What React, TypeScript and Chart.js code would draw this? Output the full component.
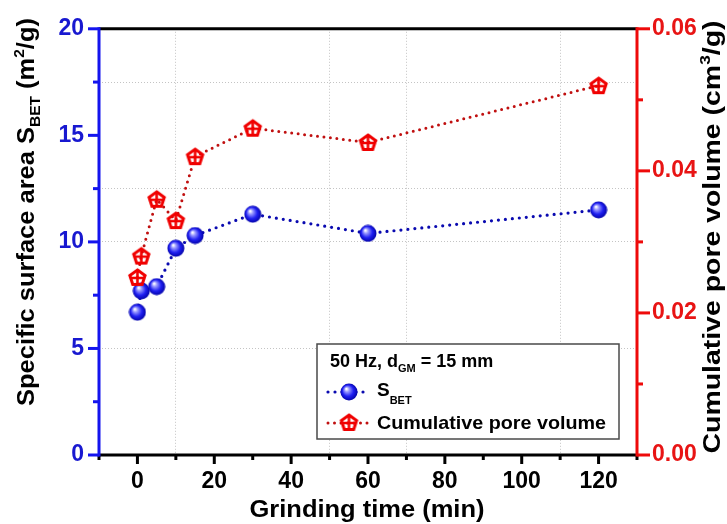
import React, { useEffect, useRef } from 'react';
import { Chart, registerables } from 'chart.js';

Chart.register(...registerables);

// ---------- data ----------
const grindingTime = [0, 1, 5, 10, 15, 30, 60, 120];
const sBET = [6.7, 7.7, 7.9, 9.7, 10.3, 11.3, 10.4, 11.5];
const poreVolume = [0.025, 0.028, 0.036, 0.033, 0.042, 0.046, 0.044, 0.052];

const xTickLabels = [0, 20, 40, 60, 80, 100, 120];
const leftTickLabels = [0, 5, 10, 15, 20];
const rightTickLabels = [0, 0.02, 0.04, 0.06];
const xGridAt = [10, 50, 70, 110];
const leftGridAt = [5, 10, 12.5, 17.5];

const FAMILY = '"Liberation Sans", Arial, sans-serif';
const BLUE_AXIS = '#1414ee';
const BLUE_TEXT = '#1818d0';
const BLUE_LINE = '#0a0ab0';
const RED_AXIS = '#ee0a0a';
const RED_TEXT = '#e81414';
const RED_LINE = '#c01010';
const GRID = '#c4c4c4';

type Part = { t: string; s: number; dy?: number };

function drawRich(
  ctx: CanvasRenderingContext2D,
  parts: Part[],
  x: number,
  y: number,
  opts: { rot?: number; align?: 'left' | 'center'; base?: number; target?: number; color?: string }
) {
  ctx.save();
  ctx.translate(x, y);
  if (opts.rot) ctx.rotate(opts.rot);
  let total = 0;
  const widths: number[] = [];
  for (const p of parts) {
    ctx.font = `bold ${p.s}px ${FAMILY}`;
    const w = ctx.measureText(p.t).width;
    widths.push(w);
    total += w;
  }
  const k = opts.target ? opts.target / total : 1;
  ctx.scale(k, 1);
  let cx = opts.align === 'center' ? -total / 2 : 0;
  ctx.textAlign = 'left';
  ctx.textBaseline = 'alphabetic';
  ctx.fillStyle = opts.color || '#000';
  parts.forEach((p, i) => {
    ctx.font = `bold ${p.s}px ${FAMILY}`;
    ctx.fillText(p.t, cx, (opts.base || 0) + (p.dy || 0));
    cx += widths[i];
  });
  ctx.restore();
}

function makeSphere(): HTMLCanvasElement {
  const c = document.createElement('canvas');
  c.width = 18;
  c.height = 18;
  const g = c.getContext('2d')!;
  const grad = g.createRadialGradient(6.3, 5.8, 0.5, 9, 9, 9);
  grad.addColorStop(0, '#ffffff');
  grad.addColorStop(0.22, '#9a9aff');
  grad.addColorStop(0.6, '#2020f2');
  grad.addColorStop(1, '#0000a0');
  g.fillStyle = grad;
  g.beginPath();
  g.arc(9, 9, 8.5, 0, Math.PI * 2);
  g.fill();
  return c;
}

function makePentagon(): HTMLCanvasElement {
  const c = document.createElement('canvas');
  c.width = 21;
  c.height = 21;
  const g = c.getContext('2d')!;
  const cx = 10.5;
  const cy = 11;
  const r = 8;
  g.strokeStyle = '#f00000';
  g.lineWidth = 3;
  g.lineJoin = 'miter';
  g.beginPath();
  for (let k = 0; k < 5; k++) {
    const a = -Math.PI / 2 + (k * 2 * Math.PI) / 5;
    const px = cx + r * Math.cos(a);
    const py = cy + r * Math.sin(a);
    if (k === 0) g.moveTo(px, py);
    else g.lineTo(px, py);
  }
  g.closePath();
  g.stroke();
  g.lineWidth = 2.6;
  g.beginPath();
  g.moveTo(cx, cy - r);
  g.lineTo(cx, cy + r * 0.8);
  g.moveTo(cx - r * 0.95, cy);
  g.lineTo(cx + r * 0.95, cy);
  g.stroke();
  return c;
}

export default function App() {
  const ref = useRef<HTMLCanvasElement | null>(null);

  useEffect(() => {
    document.body.style.margin = '0';
    const canvas = ref.current!;
    const sphere = makeSphere();
    const pent = makePentagon();

    const decor = {
      id: 'decor',
      afterDraw(chart: any) {
        const ctx: CanvasRenderingContext2D = chart.ctx;
        const a = chart.chartArea;
        const xs = chart.scales.x;
        const yl = chart.scales.y;
        const yr = chart.scales.y1;
        ctx.save();
        ctx.lineCap = 'butt';
        // frame
        ctx.lineWidth = 3;
        ctx.strokeStyle = '#000';
        ctx.beginPath();
        ctx.moveTo(a.left, a.top);
        ctx.lineTo(a.right, a.top);
        ctx.moveTo(a.left, a.bottom);
        ctx.lineTo(a.right, a.bottom);
        ctx.stroke();
        // x ticks
        for (const t of xs.ticks) {
          const px = xs.getPixelForValue(t.value);
          const major = Math.abs(t.value % 20) < 1e-9;
          ctx.beginPath();
          ctx.moveTo(px, a.bottom);
          ctx.lineTo(px, a.bottom + (major ? 9 : 5));
          ctx.stroke();
        }
        // left axis
        ctx.strokeStyle = BLUE_AXIS;
        ctx.beginPath();
        ctx.moveTo(a.left, a.top - 1.5);
        ctx.lineTo(a.left, a.bottom + 1.5);
        ctx.stroke();
        for (const t of yl.ticks) {
          const py = yl.getPixelForValue(t.value);
          const major = Math.abs(t.value % 5) < 1e-9;
          ctx.beginPath();
          ctx.moveTo(a.left, py);
          ctx.lineTo(a.left - (major ? 11 : 6), py);
          ctx.stroke();
        }
        // right axis
        ctx.strokeStyle = RED_AXIS;
        ctx.beginPath();
        ctx.moveTo(a.right, a.top - 1.5);
        ctx.lineTo(a.right, a.bottom + 1.5);
        ctx.stroke();
        for (const t of yr.ticks) {
          const py = yr.getPixelForValue(t.value);
          const major = Math.round(t.value * 100) % 2 === 0;
          ctx.beginPath();
          ctx.moveTo(a.right, py);
          ctx.lineTo(a.right + (major ? 13 : 6), py);
          ctx.stroke();
        }
        ctx.restore();

        // axis titles
        drawRich(
          ctx,
          [
            { t: 'Specific surface area S', s: 23 },
            { t: 'BET', s: 14, dy: 6 },
            { t: ' (m', s: 23 },
            { t: '2', s: 14, dy: -10 },
            { t: '/g)', s: 23 },
          ],
          27,
          212,
          { rot: -Math.PI / 2, align: 'center', base: 7, target: 388 }
        );
        drawRich(
          ctx,
          [
            { t: 'Cumulative pore volume (cm', s: 23 },
            { t: '3', s: 14, dy: -10 },
            { t: '/g)', s: 23 },
          ],
          713,
          237,
          { rot: -Math.PI / 2, align: 'center', base: 7, target: 433 }
        );
        drawRich(ctx, [{ t: 'Grinding time (min)', s: 23 }], 367, 517, {
          align: 'center',
          target: 235,
        });

        // legend
        ctx.save();
        ctx.fillStyle = '#fff';
        ctx.fillRect(317, 344, 302, 95);
        ctx.strokeStyle = '#4a4a4a';
        ctx.lineWidth = 1.5;
        ctx.strokeRect(317, 344, 302, 95);
        ctx.lineCap = 'round';
        ctx.setLineDash([0, 7]);
        ctx.lineWidth = 3.2;
        ctx.strokeStyle = BLUE_LINE;
        ctx.beginPath();
        ctx.moveTo(328, 392);
        ctx.lineTo(370, 392);
        ctx.stroke();
        ctx.setLineDash([0, 6.5]);
        ctx.lineWidth = 3;
        ctx.strokeStyle = RED_LINE;
        ctx.beginPath();
        ctx.moveTo(328, 423);
        ctx.lineTo(370, 423);
        ctx.stroke();
        ctx.setLineDash([]);
        ctx.drawImage(sphere, 349 - 9, 392 - 9);
        ctx.drawImage(pent, 349 - 10.5, 423 - 11);
        ctx.restore();
        drawRich(
          ctx,
          [
            { t: '50 Hz, d', s: 18 },
            { t: 'GM', s: 11, dy: 5 },
            { t: ' = 15 mm', s: 18 },
          ],
          330,
          367,
          {}
        );
        drawRich(
          ctx,
          [
            { t: 'S', s: 19 },
            { t: 'BET', s: 11, dy: 8 },
          ],
          377,
          396,
          {}
        );
        drawRich(ctx, [{ t: 'Cumulative pore volume', s: 19 }], 377, 429, { target: 229 });
      },
    };

    const chart = new Chart(canvas, {
      type: 'line',
      data: {
        datasets: [
          {
            label: 'Cumulative pore volume',
            data: grindingTime.map((x, i) => ({ x, y: poreVolume[i] })),
            yAxisID: 'y1',
            borderColor: RED_LINE,
            borderWidth: 3,
            borderDash: [0, 6.5],
            borderCapStyle: 'round',
            pointStyle: pent as any,
            pointRadius: 10,
            tension: 0,
            fill: false,
          },
          {
            label: 'S_BET',
            data: grindingTime.map((x, i) => ({ x, y: sBET[i] })),
            yAxisID: 'y',
            borderColor: BLUE_LINE,
            borderWidth: 3.2,
            borderDash: [0, 7],
            borderCapStyle: 'round',
            pointStyle: sphere as any,
            pointRadius: 9,
            tension: 0,
            fill: false,
          },
        ],
      },
      options: {
        animation: false,
        responsive: true,
        maintainAspectRatio: false,
        layout: { padding: { top: 20, left: 0, right: 0, bottom: 0 } },
        plugins: { legend: { display: false }, tooltip: { enabled: false } },
        scales: {
          x: {
            type: 'linear',
            min: -10,
            max: 130,
            border: { display: false, dash: [1, 2] },
            grid: {
              drawTicks: false,
              lineWidth: 1,
              color: (c: any) =>
                xGridAt.some((v) => Math.abs(v - c.tick?.value) < 1e-9) ? GRID : 'rgba(0,0,0,0)',
            },
            ticks: {
              stepSize: 10,
              autoSkip: false,
              maxRotation: 0,
              padding: 13,
              color: '#000',
              font: { family: FAMILY, size: 23, weight: 'bold' },
              callback: (v: any) => (xTickLabels.includes(Number(v)) ? String(v) : ''),
            },
            afterFit: (s: any) => {
              s.height = 69;
            },
          },
          y: {
            type: 'linear',
            position: 'left',
            min: 0,
            max: 20,
            border: { display: false, dash: [1, 2] },
            grid: {
              drawTicks: false,
              lineWidth: 1,
              color: (c: any) =>
                leftGridAt.some((v) => Math.abs(v - c.tick?.value) < 1e-9) ? GRID : 'rgba(0,0,0,0)',
            },
            ticks: {
              stepSize: 2.5,
              autoSkip: false,
              padding: 15,
              color: BLUE_TEXT,
              font: { family: FAMILY, size: 23, weight: 'bold' },
              callback: (v: any) =>
                leftTickLabels.some((t) => Math.abs(t - Number(v)) < 1e-9) ? String(v) : '',
            },
            afterFit: (s: any) => {
              s.width = 99;
            },
          },
          y1: {
            type: 'linear',
            position: 'right',
            min: 0,
            max: 0.06,
            border: { display: false },
            grid: { display: false, drawTicks: false },
            ticks: {
              stepSize: 0.01,
              autoSkip: false,
              padding: 15,
              color: RED_TEXT,
              font: { family: FAMILY, size: 23, weight: 'bold' },
              callback: (v: any) =>
                rightTickLabels.some((t) => Math.abs(t - Number(v)) < 1e-9)
                  ? Number(v).toFixed(2)
                  : '',
            },
            afterFit: (s: any) => {
              s.width = 90;
            },
          },
        },
      } as any,
      plugins: [decor],
    });

    return () => chart.destroy();
  }, []);

  return (
    <div style={{ position: 'absolute', left: 0, top: 0, width: 727, height: 524 }}>
      <canvas ref={ref} />
    </div>
  );
}
